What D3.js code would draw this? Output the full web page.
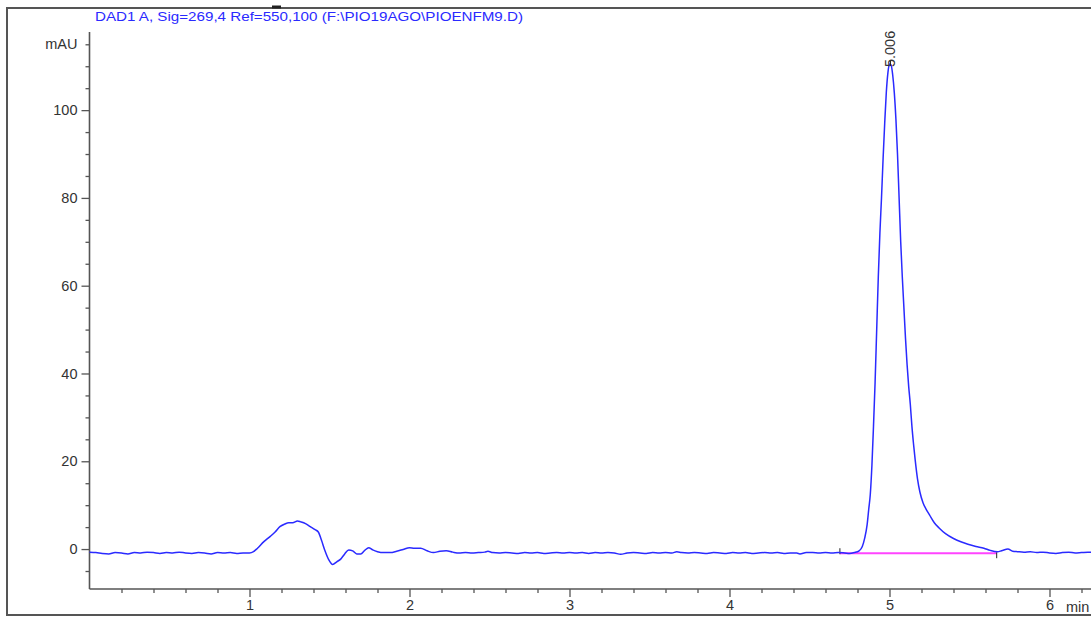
<!DOCTYPE html>
<html>
<head>
<meta charset="utf-8">
<script src="https://cdn.jsdelivr.net/npm/d3@7"></script>
<style>
  html, body { margin: 0; padding: 0; background: #fff; }
  svg { display: block; font-family: "Liberation Sans", Arial, sans-serif; }
</style>
</head>
<body>
<svg id="chart" width="1091" height="617"></svg>
<script>
// Chromatogram: DAD1 A signal, retention time (min) vs absorbance (mAU)
const title = "DAD1 A, Sig=269,4 Ref=550,100 (F:\\PIO19AGO\\PIOENFM9.D)";
const yUnit = "mAU";
const xUnit = "min";

const times = [
  0.00, 0.04, 0.08, 0.12, 0.16, 0.20, 0.24, 0.28, 0.32, 0.36, 0.40, 0.44, 0.48, 0.52, 0.56, 0.60,
  0.64, 0.68, 0.72, 0.76, 0.80, 0.84, 0.88, 0.92, 0.96, 1.00, 1.025, 1.05, 1.09, 1.13, 1.16, 1.19,
  1.22, 1.245, 1.27, 1.30, 1.32, 1.35, 1.38, 1.41, 1.43, 1.45, 1.47, 1.495, 1.52, 1.545, 1.57, 1.595,
  1.62, 1.645, 1.67, 1.695, 1.72, 1.745, 1.77, 1.80, 1.84, 1.88, 1.92, 1.96, 2.00, 2.03, 2.07, 2.11,
  2.15, 2.19, 2.23, 2.27, 2.31, 2.35, 2.39, 2.43, 2.47, 2.49, 2.52, 2.56, 2.60, 2.64, 2.68, 2.72,
  2.76, 2.80, 2.84, 2.88, 2.92, 2.96, 3.00, 3.04, 3.08, 3.12, 3.16, 3.20, 3.24, 3.28, 3.32, 3.36,
  3.40, 3.44, 3.48, 3.52, 3.56, 3.60, 3.64, 3.67, 3.70, 3.74, 3.78, 3.82, 3.86, 3.90, 3.94, 3.98,
  4.02, 4.06, 4.10, 4.14, 4.18, 4.22, 4.26, 4.30, 4.34, 4.38, 4.42, 4.44, 4.48, 4.52, 4.56, 4.60,
  4.64, 4.68, 4.72, 4.75, 4.78, 4.81, 4.83, 4.845, 4.86, 4.87, 4.88, 4.89, 4.90, 4.91, 4.92, 4.93,
  4.94, 4.95, 4.96, 4.97, 4.98, 4.99, 5.00, 5.01, 5.02, 5.03, 5.04, 5.05, 5.06, 5.07, 5.08, 5.09,
  5.10, 5.11, 5.12, 5.13, 5.14, 5.15, 5.16, 5.175, 5.19, 5.21, 5.23, 5.25, 5.28, 5.31, 5.35, 5.40,
  5.45, 5.49, 5.54, 5.59, 5.63, 5.675, 5.70, 5.74, 5.77, 5.80, 5.84, 5.88, 5.92, 5.96, 6.00, 6.04,
  6.08, 6.12, 6.16, 6.20, 6.24, 6.28
];

const signal = [
  -0.7, -0.8, -1.0, -1.1, -0.8, -0.9, -1.1, -0.8, -0.9, -0.7, -0.8, -1.0, -0.8, -0.9, -0.7, -0.9,
  -1.0, -0.8, -0.9, -1.1, -0.8, -0.9, -0.8, -1.0, -0.9, -0.9, -0.6, 0.2, 1.7, 2.9, 3.9, 5.1,
  5.7, 6.0, 6.0, 6.4, 6.2, 5.8, 5.1, 4.4, 3.9, 2.0, -0.2, -2.4, -3.5, -2.9, -2.3, -1.1,
  -0.2, -0.4, -1.1, -1.1, -0.3, 0.3, -0.2, -0.6, -0.8, -0.8, -0.5, -0.1, 0.3, 0.2, 0.2, -0.4,
  -0.8, -0.5, -0.4, -0.7, -0.9, -0.8, -0.9, -0.8, -0.7, -0.5, -0.8, -0.9, -0.8, -0.9, -1.0, -0.8,
  -0.9, -0.8, -1.0, -0.9, -0.8, -0.9, -0.8, -0.9, -0.8, -1.0, -0.8, -0.9, -0.8, -0.9, -1.2, -0.9,
  -0.8, -0.9, -1.0, -0.8, -0.9, -0.8, -0.9, -0.6, -0.8, -0.9, -0.8, -0.9, -1.0, -0.8, -0.9, -1.0,
  -0.8, -0.9, -0.8, -1.0, -0.9, -0.8, -0.9, -0.8, -1.0, -0.9, -0.9, -1.1, -0.8, -0.8, -0.9, -0.8,
  -0.9, -0.8, -0.9, -1.0, -0.8, -0.4, 0.6, 2.5, 5.5, 9.0, 12.5, 19, 28, 38, 50, 62,
  72, 80, 89, 97, 104, 108.5, 110.5, 110.3, 108, 104, 98, 90, 80, 70, 62, 55,
  48, 42, 37, 33, 28, 24, 20.5, 16, 13, 10.5, 9.0, 7.8, 6.0, 4.8, 3.5, 2.4,
  1.6, 1.1, 0.6, 0.2, -0.3, -0.6, -0.4, 0.0, -0.5, -0.6, -0.7, -0.6, -0.8, -0.7, -0.9, -1.0,
  -0.8, -0.7, -0.9, -0.8, -0.7, -0.8
];

// Integrated peak: retention time label and baseline from start to end
const peakLabel = ["5.006"];
const peakTime = [5.006];
const peakHeight = [110.5];
const baselineTimes = [4.69, 5.67];
const baselineValues = [-0.95, -0.95];

const yMajorTicks = [0, 20, 40, 60, 80, 100];
const yMinorTicks = [-5, 5, 10, 15, 25, 30, 35, 45, 50, 55, 65, 70, 75, 85, 90, 95, 105, 110, 115];
const xMajorTicks = [1, 2, 3, 4, 5, 6];
const xMinorTicks = [0.2, 0.4, 0.6, 0.8, 1.2, 1.4, 1.6, 1.8, 2.2, 2.4, 2.6, 2.8, 3.2, 3.4, 3.6, 3.8,
                     4.2, 4.4, 4.6, 4.8, 5.2, 5.4, 5.6, 5.8, 6.2];

const svg = d3.select("#chart");
const axisColor = "#555";
const textColor = "#333";
const labelSize = 14.5;

const x = d3.scaleLinear().domain([0, 6.27]).range([89.5, 89.5 + 6.27 * 160]);
const y = d3.scaleLinear().domain([-9.1, 117.8]).range([589, 32]);

// Outer frame
svg.append("rect")
  .attr("x", 7).attr("y", 8).attr("width", 1100).attr("height", 607)
  .attr("fill", "none").attr("stroke", axisColor).attr("stroke-width", 2);
svg.append("line")
  .attr("x1", 272).attr("x2", 281).attr("y1", 7).attr("y2", 7)
  .attr("stroke", "#222").attr("stroke-width", 3);

// Title
svg.append("text")
  .attr("x", 95).attr("y", 21)
  .attr("fill", "#2a2aff").attr("font-size", 13.5)
  .attr("textLength", 428).attr("lengthAdjust", "spacingAndGlyphs")
  .text(title);

// Y axis
const yAxisG = svg.append("g").attr("transform", `translate(${x(0)},0)`);
yAxisG.append("g")
  .call(d3.axisLeft(y).tickValues(yMajorTicks).tickSize(8).tickSizeOuter(0).tickPadding(4))
  .call(g => g.select(".domain").remove());
yAxisG.append("g")
  .call(d3.axisLeft(y).tickValues(yMinorTicks).tickSize(4).tickFormat("").tickSizeOuter(0))
  .call(g => g.select(".domain").remove());
yAxisG.append("line")
  .attr("x1", 0).attr("x2", 0).attr("y1", 32).attr("y2", y.range()[0])
  .attr("stroke", axisColor).attr("stroke-width", 1.6);
yAxisG.append("text")
  .attr("x", -12).attr("y", y(115)).attr("dy", "0.32em")
  .attr("text-anchor", "end").attr("fill", textColor).attr("font-size", labelSize)
  .text(yUnit);

// X axis
const xAxisG = svg.append("g").attr("transform", `translate(0,${y.range()[0]})`);
xAxisG.append("g")
  .call(d3.axisBottom(x).tickValues(xMajorTicks).tickSize(8).tickSizeOuter(0).tickPadding(3).tickFormat(d3.format("d")))
  .call(g => g.select(".domain").remove());
xAxisG.append("g")
  .call(d3.axisBottom(x).tickValues(xMinorTicks).tickSize(4).tickFormat("").tickSizeOuter(0))
  .call(g => g.select(".domain").remove());
xAxisG.append("line")
  .attr("x1", x(0)).attr("x2", 1091).attr("y1", 0).attr("y2", 0)
  .attr("stroke", axisColor).attr("stroke-width", 1.6);
xAxisG.append("text")
  .attr("x", 1066).attr("y", 23)
  .attr("fill", textColor).attr("font-size", labelSize)
  .text(xUnit);

svg.selectAll(".tick line").attr("stroke", axisColor).attr("stroke-width", 1.3);
svg.selectAll(".tick text").attr("fill", textColor).attr("font-size", labelSize)
  .attr("font-family", "'Liberation Sans', Arial, sans-serif");

// Integration baseline with start/end markers
const baseLine = d3.line().x(d => x(d[0])).y(d => y(d[1]));
svg.append("path")
  .datum(d3.zip(baselineTimes, baselineValues))
  .attr("d", baseLine)
  .attr("fill", "none").attr("stroke", "#ff44ff").attr("stroke-width", 2);
svg.selectAll(".bl-mark")
  .data(d3.zip(baselineTimes, baselineValues))
  .join("line")
  .attr("class", "bl-mark")
  .attr("x1", d => x(d[0])).attr("x2", d => x(d[0]))
  .attr("y1", (d, i) => y(d[1]) + (i === 0 ? -5 : -1))
  .attr("y2", (d, i) => y(d[1]) + (i === 0 ? 1 : 5))
  .attr("stroke", "#222").attr("stroke-width", 1);

// Signal trace
const trace = d3.line().x(d => x(d[0])).y(d => y(d[1])).curve(d3.curveMonotoneX);
svg.append("path")
  .datum(d3.zip(times, signal))
  .attr("d", trace)
  .attr("fill", "none").attr("stroke", "#2a2aff").attr("stroke-width", 1.5)
  .attr("stroke-linejoin", "round");

// Peak apex marker and retention-time label
peakTime.forEach((t, i) => {
  svg.append("line")
    .attr("x1", x(t)).attr("x2", x(t))
    .attr("y1", y(peakHeight[i]) - 4).attr("y2", y(peakHeight[i]) + 2)
    .attr("stroke", "#222").attr("stroke-width", 1);
  svg.append("text")
    .attr("transform", `translate(${x(t) + 5},${y(peakHeight[i]) + 3}) rotate(-90)`)
    .attr("fill", textColor).attr("font-size", labelSize)
    .text(peakLabel[i]);
});
</script>
</body>
</html>
